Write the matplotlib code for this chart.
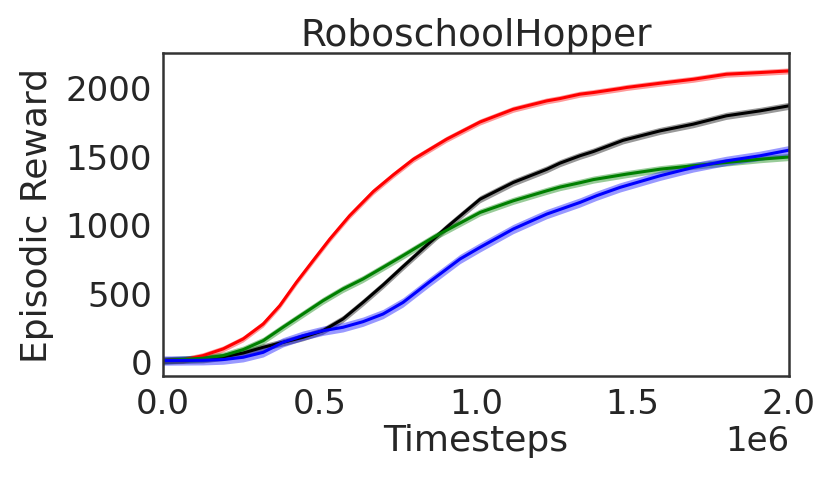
import numpy as np
import matplotlib
matplotlib.use("Agg")
import matplotlib.pyplot as plt

# timesteps in units of 1e6, mean episodic reward
red_t = [0.0, 0.064, 0.128, 0.192, 0.256, 0.32, 0.373, 0.426, 0.479, 0.533, 0.596,
         0.672, 0.736, 0.8, 0.906, 1.013, 1.119, 1.226, 1.268, 1.332, 1.375, 1.46,
         1.481, 1.588, 1.694, 1.8, 1.907, 2.0]
red_y = [3, 7, 39, 88, 161, 270, 404, 574, 732, 891, 1061,
         1238, 1360, 1474, 1620, 1746, 1839, 1900, 1917, 1949, 1961, 1990,
         1998, 2029, 2058, 2095, 2107, 2119]

black_t = [0.0, 0.128, 0.192, 0.256, 0.32, 0.383, 0.447, 0.511, 0.575, 0.639, 0.703,
           0.767, 0.8, 0.869, 0.906, 1.013, 1.119, 1.226, 1.268, 1.332, 1.375, 1.47,
           1.588, 1.694, 1.8, 1.907, 2.0]
black_y = [3, 12, 30, 58, 100, 136, 173, 221, 307, 428, 555,
           690, 758, 900, 976, 1182, 1304, 1400, 1445, 1499, 1530, 1612,
           1681, 1730, 1791, 1827, 1864]

green_t = [0.0, 0.128, 0.192, 0.256, 0.32, 0.383, 0.447, 0.511, 0.575, 0.639, 0.703,
           0.767, 0.869, 1.013, 1.119, 1.226, 1.268, 1.332, 1.375, 1.481, 1.588,
           1.694, 1.8, 1.907, 2.0]
green_y = [3, 20, 39, 83, 148, 246, 343, 440, 526, 599, 684,
           770, 910, 1085, 1170, 1243, 1270, 1302, 1325, 1365, 1401,
           1426, 1450, 1474, 1490]

blue_t = [0.0, 0.128, 0.192, 0.256, 0.32, 0.383, 0.447, 0.511, 0.575, 0.639, 0.703,
          0.767, 0.85, 0.949, 1.013, 1.119, 1.226, 1.332, 1.385, 1.46, 1.588,
          1.694, 1.8, 1.907, 2.0]
blue_y = [3, 5, 10, 27, 63, 136, 185, 221, 246, 287, 343,
          428, 575, 745, 830, 964, 1073, 1158, 1207, 1268, 1353,
          1414, 1462, 1499, 1540]

# half width of the shaded band for each run
band = {"red": 22, "black": 26, "green": 26, "blue": 34}

runs = [(red_t, red_y, "red"), (black_t, black_y, "black"),
        (green_t, green_y, "green"), (blue_t, blue_y, "blue")]

plt.rcParams['font.family'] = 'DejaVu Sans'
fig = plt.figure(figsize=(8.3, 4.89), dpi=100)
ax = fig.add_axes([0.1964, 0.229, 0.7542, 0.6606])

for t, y, c in runs:
    t = np.array(t) * 1e6
    y = np.array(y, dtype=float)
    ax.fill_between(t, y - band[c], y + band[c], color=c, alpha=0.4, lw=0)
    ax.plot(t, y, color=c, lw=2.2)

ax.set_xlim(0, 2e6)
ax.set_ylim(-110, 2250)
ax.set_yticks([0, 500, 1000, 1500, 2000])
ax.set_xticks([0, 0.5e6, 1.0e6, 1.5e6, 2.0e6])

txt = '#262626'
ax.tick_params(axis='both', length=0, labelsize=24.5, colors=txt, pad=8)
ax.xaxis.get_offset_text().set_fontsize(24.5)
ax.xaxis.get_offset_text().set_color(txt)
for s in ax.spines.values():
    s.set_color('#333333')
    s.set_linewidth(1.8)

ax.set_title("RoboschoolHopper", fontsize=27, color=txt, pad=6)
ax.set_xlabel("Timesteps", fontsize=26, color=txt, labelpad=2)
ax.set_ylabel("Episodic Reward", fontsize=26, color=txt, labelpad=8)

fig.savefig("out.png", dpi=100)
